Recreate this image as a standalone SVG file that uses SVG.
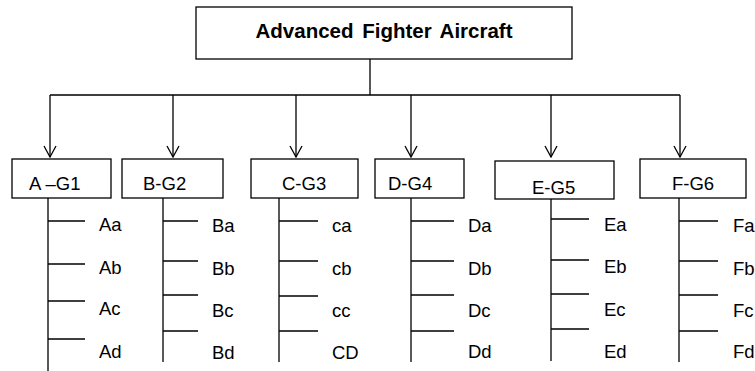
<svg xmlns="http://www.w3.org/2000/svg" width="755" height="371" viewBox="0 0 755 371">
<defs>
<style>
.box{fill:#fff;stroke:#000;stroke-width:1.3}
.ln{fill:none;stroke:#000;stroke-width:1.3}
.t{font-family:"Liberation Sans",Arial,sans-serif;font-size:18.5px;fill:#000}
.title{font-family:"Liberation Sans",Arial,sans-serif;font-size:20.5px;font-weight:bold;fill:#000}
</style>
<marker id="arr" viewBox="-12 -7 13 14" refX="0" refY="0" markerWidth="13" markerHeight="14" markerUnits="userSpaceOnUse" orient="auto">
<path d="M-11,-6 L0,0 L-11,6" fill="none" stroke="#000" stroke-width="1.3"/>
</marker>
</defs>
<rect width="755" height="371" fill="#fff"/>
<g id="connectors">
<path class="ln" d="M370,59 V95 M50,95 H680"/>
<path class="ln" d="M50,95 V157" marker-end="url(#arr)"/>
<path class="ln" d="M173,95 V157" marker-end="url(#arr)"/>
<path class="ln" d="M296,95 V157" marker-end="url(#arr)"/>
<path class="ln" d="M411,95 V157" marker-end="url(#arr)"/>
<path class="ln" d="M551,95 V157" marker-end="url(#arr)"/>
<path class="ln" d="M680,95 V157" marker-end="url(#arr)"/>
<path class="ln" d="M48,198 V371 M48,221 H85 M48,264 H85 M48,301 H85 M48,339 H85"/>
<path class="ln" d="M163,198 V362 M163,221 H198 M163,261 H198 M163,295 H198 M163,331 H198"/>
<path class="ln" d="M279,198 V362 M279,221 H318 M279,261 H318 M279,296 H318 M279,331 H318"/>
<path class="ln" d="M411,198 V362 M411,221 H454 M411,261 H454 M411,295 H454 M411,331 H454"/>
<path class="ln" d="M551,199 V361 M551,219 H589 M551,260 H589 M551,294 H589 M551,329 H589"/>
<path class="ln" d="M679,198 V362 M679,221 H718 M679,261 H718 M679,295 H718 M679,331 H718"/>
</g>
<g id="root">
<rect class="box" x="196" y="7" width="376" height="52"/>
<text class="title" x="384" y="38" text-anchor="middle" word-spacing="3">Advanced Fighter Aircraft</text>
</g>
<g id="g1">
<rect class="box" x="12" y="159" width="99" height="39"/>
<text class="t" x="29" y="190">A –G1</text>
<text class="t" x="99" y="231">Aa</text>
<text class="t" x="99" y="274">Ab</text>
<text class="t" x="99" y="315">Ac</text>
<text class="t" x="99" y="358">Ad</text>
</g>
<g id="g2">
<rect class="box" x="122" y="159" width="101" height="39"/>
<text class="t" x="143" y="190">B-G2</text>
<text class="t" x="212" y="232">Ba</text>
<text class="t" x="212" y="275">Bb</text>
<text class="t" x="212" y="317">Bc</text>
<text class="t" x="212" y="359">Bd</text>
</g>
<g id="g3">
<rect class="box" x="251" y="159" width="107" height="39"/>
<text class="t" x="282" y="190">C-G3</text>
<text class="t" x="332" y="232">ca</text>
<text class="t" x="332" y="275">cb</text>
<text class="t" x="332" y="317">cc</text>
<text class="t" x="332" y="359">CD</text>
</g>
<g id="g4">
<rect class="box" x="375" y="159" width="89" height="39"/>
<text class="t" x="388" y="190">D-G4</text>
<text class="t" x="468" y="232">Da</text>
<text class="t" x="468" y="275">Db</text>
<text class="t" x="468" y="317">Dc</text>
<text class="t" x="468" y="358">Dd</text>
</g>
<g id="g5">
<rect class="box" x="495" y="161" width="119" height="38"/>
<text class="t" x="532" y="194">E-G5</text>
<text class="t" x="604" y="231">Ea</text>
<text class="t" x="604" y="273">Eb</text>
<text class="t" x="604" y="316">Ec</text>
<text class="t" x="604" y="358">Ed</text>
</g>
<g id="g6">
<rect class="box" x="640" y="159" width="106" height="39"/>
<text class="t" x="672" y="190">F-G6</text>
<text class="t" x="733" y="232">Fa</text>
<text class="t" x="733" y="275">Fb</text>
<text class="t" x="733" y="317">Fc</text>
<text class="t" x="733" y="358">Fd</text>
</g>
</svg>
